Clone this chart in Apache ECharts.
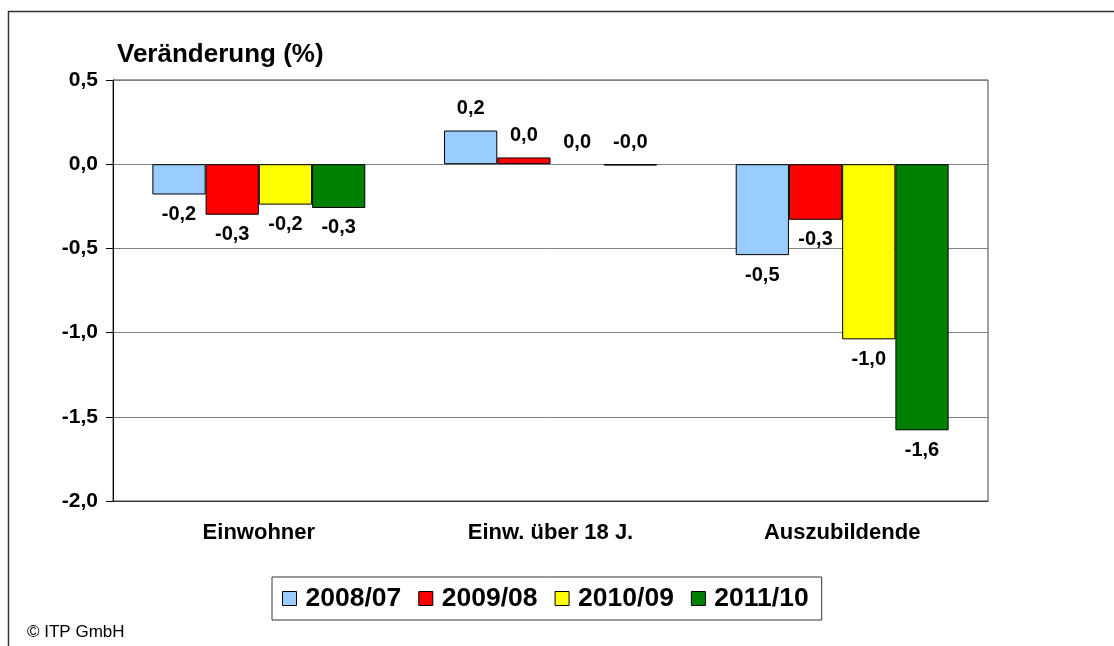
<!DOCTYPE html>
<html>
<head>
<meta charset="utf-8">
<script src="https://cdn.jsdelivr.net/npm/echarts@6/dist/echarts.min.js"></script>
<style>
  html, body { margin: 0; padding: 0; background: #fff; }
  #chart { width: 1114px; height: 646px; }
</style>
</head>
<body>
<div id="chart"></div>
<script>
// 数据
var categories = ['Einwohner', 'Einw. über 18 J.', 'Auszubildende'];
var seriesNames = ['2008/07', '2009/08', '2010/09', '2011/10'];
var values2008 = [-0.18, 0.2, -0.54];
var values2009 = [-0.30, 0.04, -0.33];
var values2010 = [-0.24, 0, -1.04];
var values2011 = [-0.26, -0.008, -1.58];
var colors = ['#99ccff', '#ff0000', '#ffff00', '#008000'];
var yTicks = [-2.0, -1.5, -1.0, -0.5, 0.0, 0.5];

var FONT = "'Liberation Sans', Arial, sans-serif";

function fmt(v) {
	return v.toFixed(1).replace('.', ',');
}

// 生成每个柱子的数据项（标签位置随正负变化）
function buildData(arr) {
	var out = [];
	for (var i = 0; i < arr.length; i++) {
		var v = arr[i];
		out.push({
			value: v,
			itemStyle: { borderWidth: v === 0 ? 0 : 1 },
			label: {
				position: v < -0.05 ? 'bottom' : 'top',
				distance: v < -0.05 ? 10 : 12
			}
		});
	}
	return out;
}

var allValues = [values2008, values2009, values2010, values2011];
var seriesData = [];
for (var i = 0; i < seriesNames.length; i++) {
	seriesData.push({
		name: seriesNames[i],
		type: 'bar',
		barGap: '0%',
		barCategoryGap: '27%',
		itemStyle: { color: colors[i], borderColor: '#000', borderWidth: 1 },
		label: {
			show: true,
			color: '#000',
			fontFamily: FONT,
			fontWeight: 'bold',
			fontSize: 20,
			formatter: function (p) { return fmt(p.value); }
		},
		data: buildData(allValues[i])
	});
}

var myChart = echarts.init(document.getElementById('chart'));
var option = {
	backgroundColor: '#fff',
	animation: false,
	color: colors,
	title: {
		text: 'Veränderung (%)',
		left: 117,
		top: 42,
		padding: 0,
		textStyle: { fontFamily: FONT, fontWeight: 'bold', fontSize: 26, color: '#000' }
	},
	legend: {
		data: seriesNames,
		left: 272,
		top: 577,
		padding: [7, 13, 7, 10],
		itemGap: 17,
		itemWidth: 14,
		itemHeight: 14,
		icon: 'rect',
		borderColor: '#333',
		borderWidth: 1,
		itemStyle: { borderColor: '#000', borderWidth: 1 },
		textStyle: { fontFamily: FONT, fontWeight: 'bold', fontSize: 26.5, color: '#000', padding: [0, 0, 0, 4], lineHeight: 29 }
	},
	grid: {
		left: 113,
		right: 126,
		top: 80,
		bottom: 145,
		show: true,
		borderColor: '#444',
		borderWidth: 1,
		outerBoundsMode: 'none'
	},
	xAxis: {
		type: 'category',
		data: categories,
		axisLine: { show: true, onZero: false, lineStyle: { color: '#333', width: 1 } },
		axisTick: { show: false },
		axisLabel: { margin: 21, color: '#000', fontFamily: FONT, fontWeight: 'bold', fontSize: 22 }
	},
	yAxis: {
		type: 'value',
		min: yTicks[0],
		max: yTicks[yTicks.length - 1],
		interval: 0.5,
		axisLine: { show: true, lineStyle: { color: '#000', width: 1 } },
		axisTick: { show: true, length: 7, lineStyle: { color: '#000' } },
		axisLabel: {
			margin: 15,
			color: '#000',
			fontFamily: FONT,
			fontWeight: 'bold',
			fontSize: 21,
			formatter: function (v) { return fmt(v); }
		},
		splitLine: { show: true, lineStyle: { color: '#808080', width: 1 } }
	},
	graphic: [
		{
			type: 'rect',
			shape: { x: 8.5, y: 11.5, width: 1300, height: 800 },
			style: { fill: 'none', stroke: '#333', lineWidth: 1.5 },
			silent: true
		},
		{
			type: 'text',
			left: 27,
			top: 624,
			style: { text: '© ITP GmbH', fontFamily: FONT, fontSize: 17, fill: '#000' }
		}
	],
	series: seriesData
};

myChart.setOption(option);
</script>
</body>
</html>
